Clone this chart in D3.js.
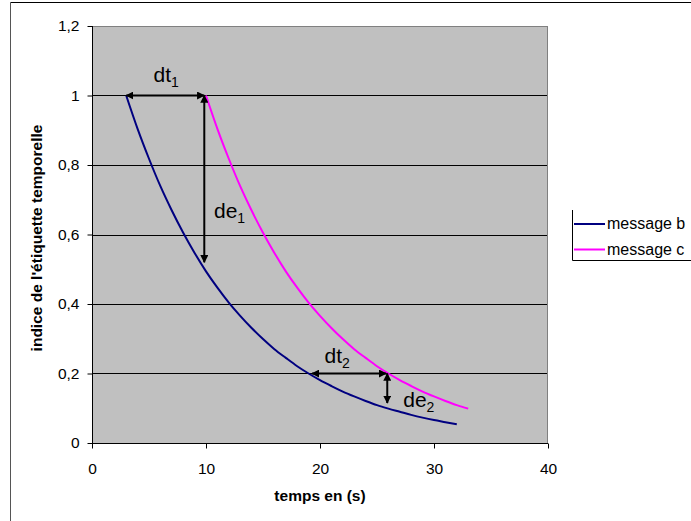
<!DOCTYPE html>
<html><head><meta charset="utf-8">
<script src="https://cdn.jsdelivr.net/npm/d3@7"></script>
<style>body{margin:0;background:#fff}svg{display:block}text{font-family:"Liberation Sans",Arial,sans-serif}</style>
</head><body>
<script>
const xTicks = [0, 10, 20, 30, 40];
const yTicks = [0, 0.2, 0.4, 0.6, 0.8, 1.0, 1.2];
const yTickLabels = ["0", "0,2", "0,4", "0,6", "0,8", "1", "1,2"];
const seriesNames = ["message b", "message c"];
const seriesColors = ["#000080", "#FF00FF"];
const bTimes = [3,4,5,6,7,8,9,10,11,12,13,14,15,16,17,18,19,20,21,22,23,24,25,26,27,28,29,30,31,32];
const bValues = [1.000,0.904,0.818,0.739,0.669,0.605,0.547,0.494,0.447,0.404,0.366,0.331,0.299,0.270,0.245,0.221,0.200,0.181,0.164,0.148,0.134,0.121,0.109,0.099,0.090,0.081,0.073,0.066,0.060,0.054];
const cTimes = [10,11,12,13,14,15,16,17,18,19,20,21,22,23,24,25,26,27,28,29,30,31,32,33];
const cValues = [1.000,0.904,0.818,0.739,0.669,0.605,0.547,0.494,0.447,0.404,0.366,0.331,0.299,0.270,0.245,0.221,0.200,0.181,0.164,0.148,0.134,0.121,0.109,0.099];
// annotation arrows: [x1,y1,x2,y2] in data units
const arrows = [[3,1.0,9.85,1.0],[9.85,1.0,9.85,0.52],[19.3,0.2,25.8,0.2],[25.9,0.2,25.9,0.115]];
const annoMain = ["dt","de","dt","de"];
const annoSub = ["1","1","2","2"];
const annoX = [5.4, 10.7, 20.4, 27.3];
const annoY = [1.04, 0.647, 0.23, 0.104];

const W = 691, H = 521;
const svg = d3.select("body").append("svg").attr("width", W).attr("height", H);
const L = 92, R = 548, T = 26, B = 443;
const x = d3.scaleLinear().domain([0, 40]).range([L, R]);
const y = d3.scaleLinear().domain([0, 1.2]).range([B, T]);

// outer frame
svg.append("line").attr("x1",10.5).attr("y1",2.5).attr("x2",W+5).attr("y2",2.5).attr("stroke","#000").attr("stroke-width",1);
svg.append("line").attr("x1",10.5).attr("y1",2.5).attr("x2",10.5).attr("y2",H+5).attr("stroke","#555").attr("stroke-width",1);

// plot area
svg.append("rect").attr("x",L).attr("y",T).attr("width",R-L).attr("height",B-T).attr("fill","#C0C0C0");
// gridlines
svg.append("g").selectAll("line").data(yTicks.filter(d=>d>0 && d<1.2)).join("line")
  .attr("x1",L).attr("x2",R).attr("y1",d=>Math.round(y(d))+0.5).attr("y2",d=>Math.round(y(d))+0.5)
  .attr("stroke","#000").attr("stroke-width",1);
svg.append("line").attr("x1",L).attr("x2",R).attr("y1",T+0.5).attr("y2",T+0.5).attr("stroke","#808080");
svg.append("line").attr("x1",R-0.5).attr("x2",R-0.5).attr("y1",T).attr("y2",B).attr("stroke","#808080");

// axes
const xAxis = d3.axisBottom(x).tickValues(xTicks).tickSize(5).tickPadding(14.5).tickFormat(d=>d);
const gx = svg.append("g").attr("transform",`translate(0,${B+0.5})`).call(xAxis);
const yAxis = d3.axisLeft(y).tickValues(yTicks).tickSize(5).tickPadding(8).tickFormat((d,i)=>yTickLabels[i]);
const gy = svg.append("g").attr("transform",`translate(${L+0.5},0)`).call(yAxis);
[gx,gy].forEach(g=>{
  g.select(".domain").attr("stroke","#000");
  g.selectAll(".tick line").attr("stroke","#000");
  g.selectAll(".tick text").attr("font-size",15.5).attr("fill","#000").style("font-family","'Liberation Sans',Arial,sans-serif");
});
gx.select(".domain").attr("d",`M${L},0H${R}`);
gy.select(".domain").attr("d",`M0,${T}V${B}`);

// series
const line = d3.line().x(d=>x(d[0])).y(d=>y(d[1])).curve(d3.curveMonotoneX);
const series = [d3.zip(bTimes,bValues), d3.zip(cTimes,cValues)];
series.forEach((s,i)=>{
  svg.append("path").datum(s).attr("d",line).attr("fill","none").attr("stroke",seriesColors[i]).attr("stroke-width",2);
});

// arrows
const defs = svg.append("defs");
defs.append("marker").attr("id","ah").attr("viewBox","0 0 10 10").attr("refX",9).attr("refY",5)
  .attr("markerWidth",4).attr("markerHeight",4).attr("markerUnits","strokeWidth").attr("orient","auto-start-reverse")
  .append("path").attr("d","M0,0L10,5L0,10z").attr("fill","#000");
svg.append("g").selectAll("line").data(arrows).join("line")
  .attr("x1",d=>x(d[0])).attr("y1",d=>y(d[1])).attr("x2",d=>x(d[2])).attr("y2",d=>y(d[3]))
  .attr("stroke","#000").attr("stroke-width",2)
  .attr("marker-start","url(#ah)").attr("marker-end","url(#ah)");

// annotation labels
annoMain.forEach((m,i)=>{
  const t = svg.append("text").attr("x",x(annoX[i])).attr("y",y(annoY[i])).attr("font-size",21).attr("fill","#000");
  t.append("tspan").text(m);
  t.append("tspan").attr("dy",5).attr("font-size",14).text(annoSub[i]);
});

// axis titles
svg.append("text").attr("x",320).attr("y",501).attr("text-anchor","middle")
  .attr("font-size",15.5).attr("font-weight","bold").text("temps en (s)");
svg.append("text").attr("transform",`translate(42,238) rotate(-90)`).attr("text-anchor","middle")
  .attr("font-size",15.5).attr("font-weight","bold").text("indice de l'étiquette temporelle");

// legend
const lg = svg.append("g");
lg.append("line").attr("x1",572.5).attr("x2",572.5).attr("y1",210).attr("y2",260.5).attr("stroke","#000");
lg.append("line").attr("x1",572.5).attr("x2",W+5).attr("y1",260.5).attr("y2",260.5).attr("stroke","#000");
seriesNames.forEach((n,i)=>{
  const yy = 224 + i*25.5;
  lg.append("line").attr("x1",574).attr("x2",605).attr("y1",yy).attr("y2",yy).attr("stroke",seriesColors[i]).attr("stroke-width",2);
  lg.append("text").attr("x",607).attr("y",yy+5).attr("font-size",16).attr("fill","#000").text(n);
});
</script>
</body></html>
